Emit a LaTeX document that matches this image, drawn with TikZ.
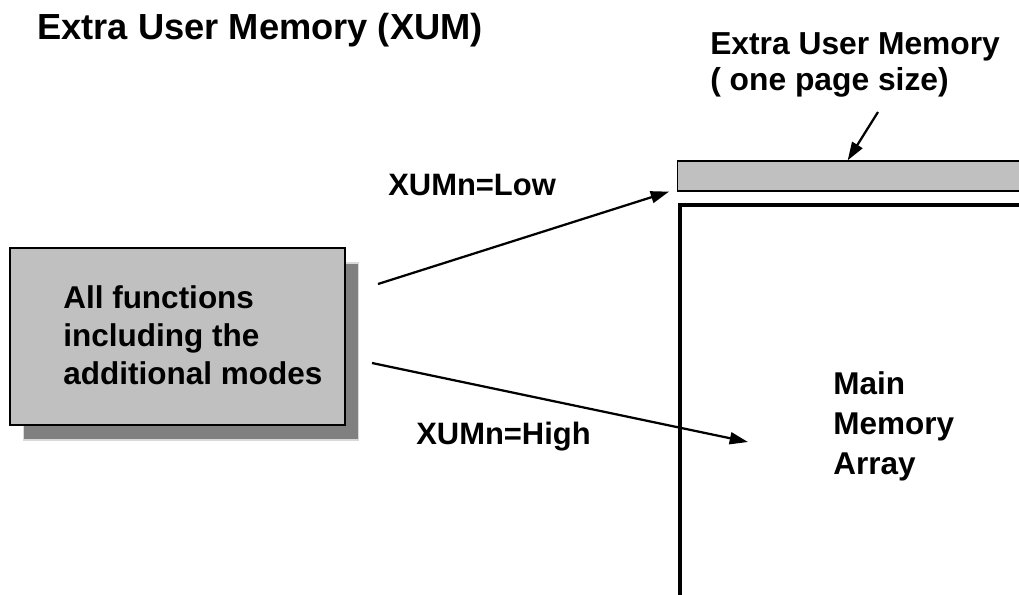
\documentclass[tikz,border=0pt]{standalone}
\usepackage{fontspec}
\setmainfont{Liberation Sans}
\usetikzlibrary{positioning,arrows.meta,shadows}

\definecolor{barfill}{HTML}{C0C0C0}
\definecolor{shadowfill}{HTML}{808080}

\begin{document}
\begin{tikzpicture}[
  x=0.025cm, y=-0.025cm,
  txt/.style={font=\fontsize{22.4}{27}\selectfont\bfseries, align=left,
              inner sep=0pt, anchor=west},
  funcbox/.style={draw, fill=barfill, line width=0.8pt,
                  minimum width=8.375cm, minimum height=4.425cm,
                  copy shadow={shadow xshift=0.34cm, shadow yshift=-0.38cm,
                               fill=shadowfill, draw=gray!30, line width=1.2pt}},
  xumbar/.style={draw, fill=barfill, line width=0.9pt,
                 minimum width=8.8cm, minimum height=0.75cm, anchor=west},
  memline/.style={line width=2.2pt},
  arrow/.style={-{Triangle[length=13pt,width=8.5pt]}, line width=1.6pt}
]
\useasboundingbox (0,0) rectangle (1019,594);
\clip (0,0) rectangle (1019,594);

% title
\node[txt, font=\fontsize{25.8}{31}\selectfont\bfseries] (title) at (37,30)
  {Extra User Memory (XUM)};

% left box with the functions
\node[funcbox] (func) at (177.5,336.5) {};
\node[txt] (functext) at (63,335)
  {All functions\\including the\\additional modes};

% memory on the right
\node[xumbar] (xum) at (677,176) {};
\draw[memline] (1030,205) -| (680,600);
\node[txt, font=\fontsize{22.4}{28.5}\selectfont\bfseries] (mainlabel) at (833,426)
  {Main\\Memory\\Array};
\node[txt, font=\fontsize{22.6}{25}\selectfont\bfseries] (xumlabel) at (710,65)
  {Extra User Memory\\( one page size)};

% modes
\node[txt, font=\fontsize{22}{27}\selectfont\bfseries] (lowlabel) at (388,185) {XUMn=Low};
\node[txt, font=\fontsize{22}{27}\selectfont\bfseries] (highlabel) at (416,437) {XUMn=High};

\coordinate (lowstart) at (378,284);
\coordinate (highstart) at (372,363);
\coordinate (highend) at (748,442);
\coordinate (pagestart) at (878,112);

\draw[arrow] (lowstart) -- ([xshift=-0.2cm]xum.south west);
\draw[arrow] (highstart) -- (highend);
\draw[arrow] (pagestart) -- ([xshift=-0.15cm]xum.north);
\end{tikzpicture}
\end{document}
